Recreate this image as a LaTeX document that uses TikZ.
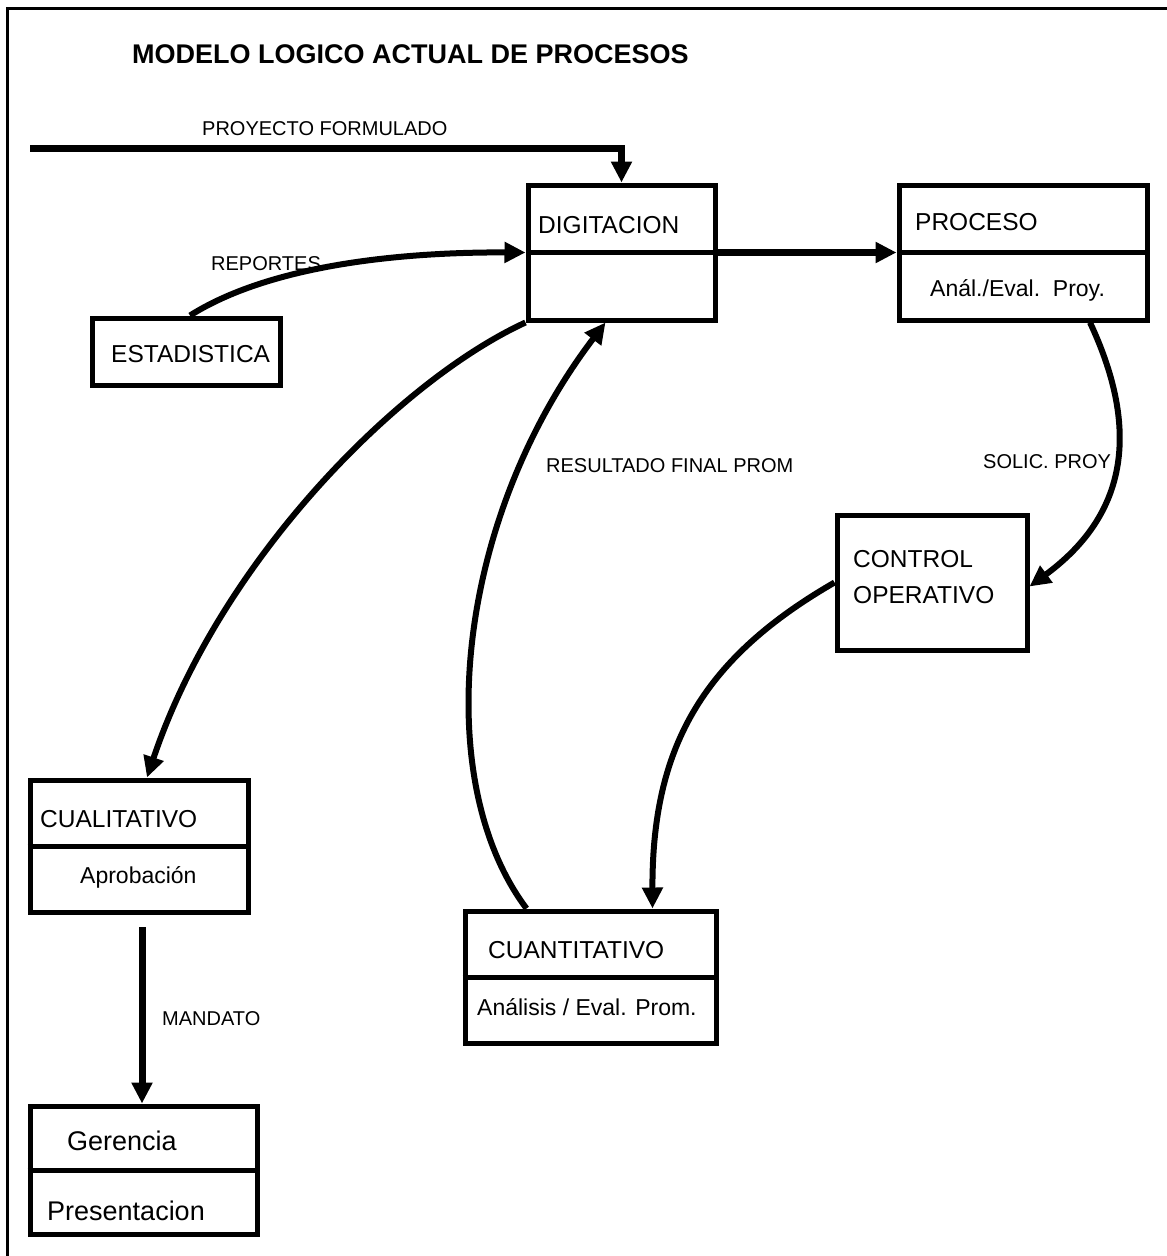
\documentclass[tikz,border=0pt]{standalone}
\usepackage{fontspec}
\setmainfont{Liberation Sans}
\usetikzlibrary{arrows.meta}
\begin{document}
\begin{tikzpicture}[x=1pt,y=-1pt,
  box/.style={draw,line width=5pt,inner sep=0pt},
  flow/.style={line width=6pt,-{Triangle[length=21pt,width=20pt]}},
  heavy/.style={flow,line width=7pt},
  plain/.style={line width=5pt},
  lbl/.style={inner sep=0pt,anchor=base west,font=\fontsize{20}{24}\selectfont},
  txt/.style={inner sep=0pt,anchor=base west,font=\fontsize{24.5}{30}\selectfont},
  small/.style={inner sep=0pt,anchor=base west,font=\fontsize{23}{28}\selectfont},
  big/.style={inner sep=0pt,anchor=base west,font=\fontsize{27}{32}\selectfont},
  ttl/.style={inner sep=0pt,anchor=base west,font=\bfseries\fontsize{27}{32}\selectfont}]
\useasboundingbox (0,0) rectangle (1167,1256);
\fill[white] (0,0) rectangle (1167,1256);

% outer frame (open at right and bottom)
\draw[line width=3pt] (7,1256) -- (7,8) -- (1167,8);

\node[ttl] (title) at (132,63) {MODELO LOGICO ACTUAL DE PROCESOS};

% process boxes
\node[box,minimum width=187pt,minimum height=135pt] (dig)   at (621.5,252.5) {};
\node[box,minimum width=248pt,minimum height=135pt] (proc)  at (1023,252.5) {};
\node[box,minimum width=188pt,minimum height=67pt]  (est)   at (186,351.5) {};
\node[box,minimum width=190pt,minimum height=135pt] (ctrl)  at (932,582.5) {};
\node[box,minimum width=218pt,minimum height=132pt] (cual)  at (139,846) {};
\node[box,minimum width=227pt,minimum height=128pt] (ger)   at (143.5,1170) {};
\node[box,minimum width=251pt,minimum height=132pt] (cuant) at (590.5,977) {};

% compartment dividers
\foreach \b in {dig,proc,cual,ger,cuant}
  \draw[plain] (\b.west) -- (\b.east);

% box texts
\node[txt] (tdig) at (538,233) {DIGITACION};
\node[txt] (tproc) at (915,230) {PROCESO};
\node[small] (tproc2) at (930,296) {Anál./Eval.\ \ Proy.};
\node[txt] (test) at (111,362) {ESTADISTICA};
\node[txt] (tctrl1) at (853,567) {CONTROL};
\node[txt] (tctrl2) at (853,603) {OPERATIVO};
\node[txt] (tcual) at (40,827) {CUALITATIVO};
\node[small] (tcual2) at (80,883) {Aprobación};
\node[big] (tger) at (67,1150) {Gerencia};
\node[big] (tger2) at (47,1220) {Presentacion};
\node[txt] (tcuant) at (488,958) {CUANTITATIVO};
\node[small] (tcuant2) at (477,1015) {Análisis / Eval. Prom.};

% flow labels
\node[lbl] (lpf) at (202,135) {PROYECTO FORMULADO};
\node[lbl] (lrep) at (211,270) {REPORTES};
\node[lbl] (lres) at (546,472) {RESULTADO FINAL PROM};
\node[lbl] (lsol) at (983,468) {SOLIC. PROY};
\node[lbl] (lman) at (162,1025) {MANDATO};

% flows
\coordinate (pfin) at (30,148);
\draw[heavy] (pfin) -| (dig.north);
\draw[heavy] (dig.east) -- (proc.west);
\draw[flow] ([xshift=4pt]est.north) .. controls (270,265) and (400,252) .. (dig.west);
\draw[flow] (dig.south west) .. controls (400,380) and (220,560) .. ([xshift=8pt]cual.north);
\draw[flow] ([xshift=-64pt]cuant.north) .. controls (430,780) and (455,520) .. ([xshift=-16pt]dig.south);
\draw[flow] ([xshift=67pt]proc.south) .. controls (1145,440) and (1120,520) .. ([yshift=-4pt]ctrl.east);
\draw[flow] (ctrl.west) .. controls (700,660) and (652,750) .. ([xshift=62pt]cuant.north);
\coordinate (manin) at (142,927);
\draw[heavy] (manin) -- (manin |- ger.north);
\end{tikzpicture}
\end{document}
